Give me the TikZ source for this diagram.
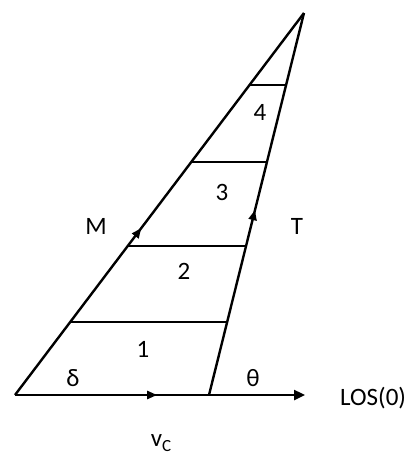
\documentclass[tikz,border=0pt]{standalone}
\usepackage{fontspec}
\setmainfont{Carlito}
\usetikzlibrary{arrows.meta,decorations.markings,calc}
\begin{document}
\begin{tikzpicture}[x=1pt,y=-1pt,
  edge/.style={line width=2.4pt},
  midarrow/.style={postaction={decorate},decoration={markings,mark=at position #1 with {\arrow{Triangle[length=10pt,width=8pt]}}}},
  lbl/.style={font=\fontsize{25}{27}\selectfont, inner sep=0pt}]
\useasboundingbox (0,0) rectangle (411,456);
\coordinate (A) at (15,395);
\coordinate (B) at (209,395);
\coordinate (P) at (304,13);
\coordinate (E) at (305,395);
% sides
\draw[edge, midarrow=0.437] (A) -- (P);
\draw[edge, midarrow=0.484] (B) -- (P);
\draw[edge, midarrow=0.49, -{Triangle[length=11pt,width=10pt]}] (A) -- (E);
% cross lines
\foreach \t/\n in {0.1911/1,0.390/2,0.610/3,0.8115/4}{
  \coordinate (L\n) at ($(A)!\t!(P)$);
  \coordinate (R\n) at ($(B)!\t!(P)$);
  \draw[edge] (L\n) -- (R\n);
}
% labels
\node[lbl] (n1) at (143,349) {1};
\node[lbl] (n2) at (184,271) {2};
\node[lbl] (n3) at (222,192) {3};
\node[lbl] (n4) at (260,112) {4};
\node[lbl] (M) at (96,226) {M};
\node[lbl] (T) at (297,226) {T};
\node[lbl] (d) at (73,378) {δ};
\node[lbl] (th) at (253,378) {θ};
\node[lbl, anchor=west] (los) at (340,398) {LOS(0)};
\node[lbl, anchor=base] (vc) at (161,446) {v\raisebox{-5pt}{\fontsize{17}{17}\selectfont C}};
\end{tikzpicture}
\end{document}
